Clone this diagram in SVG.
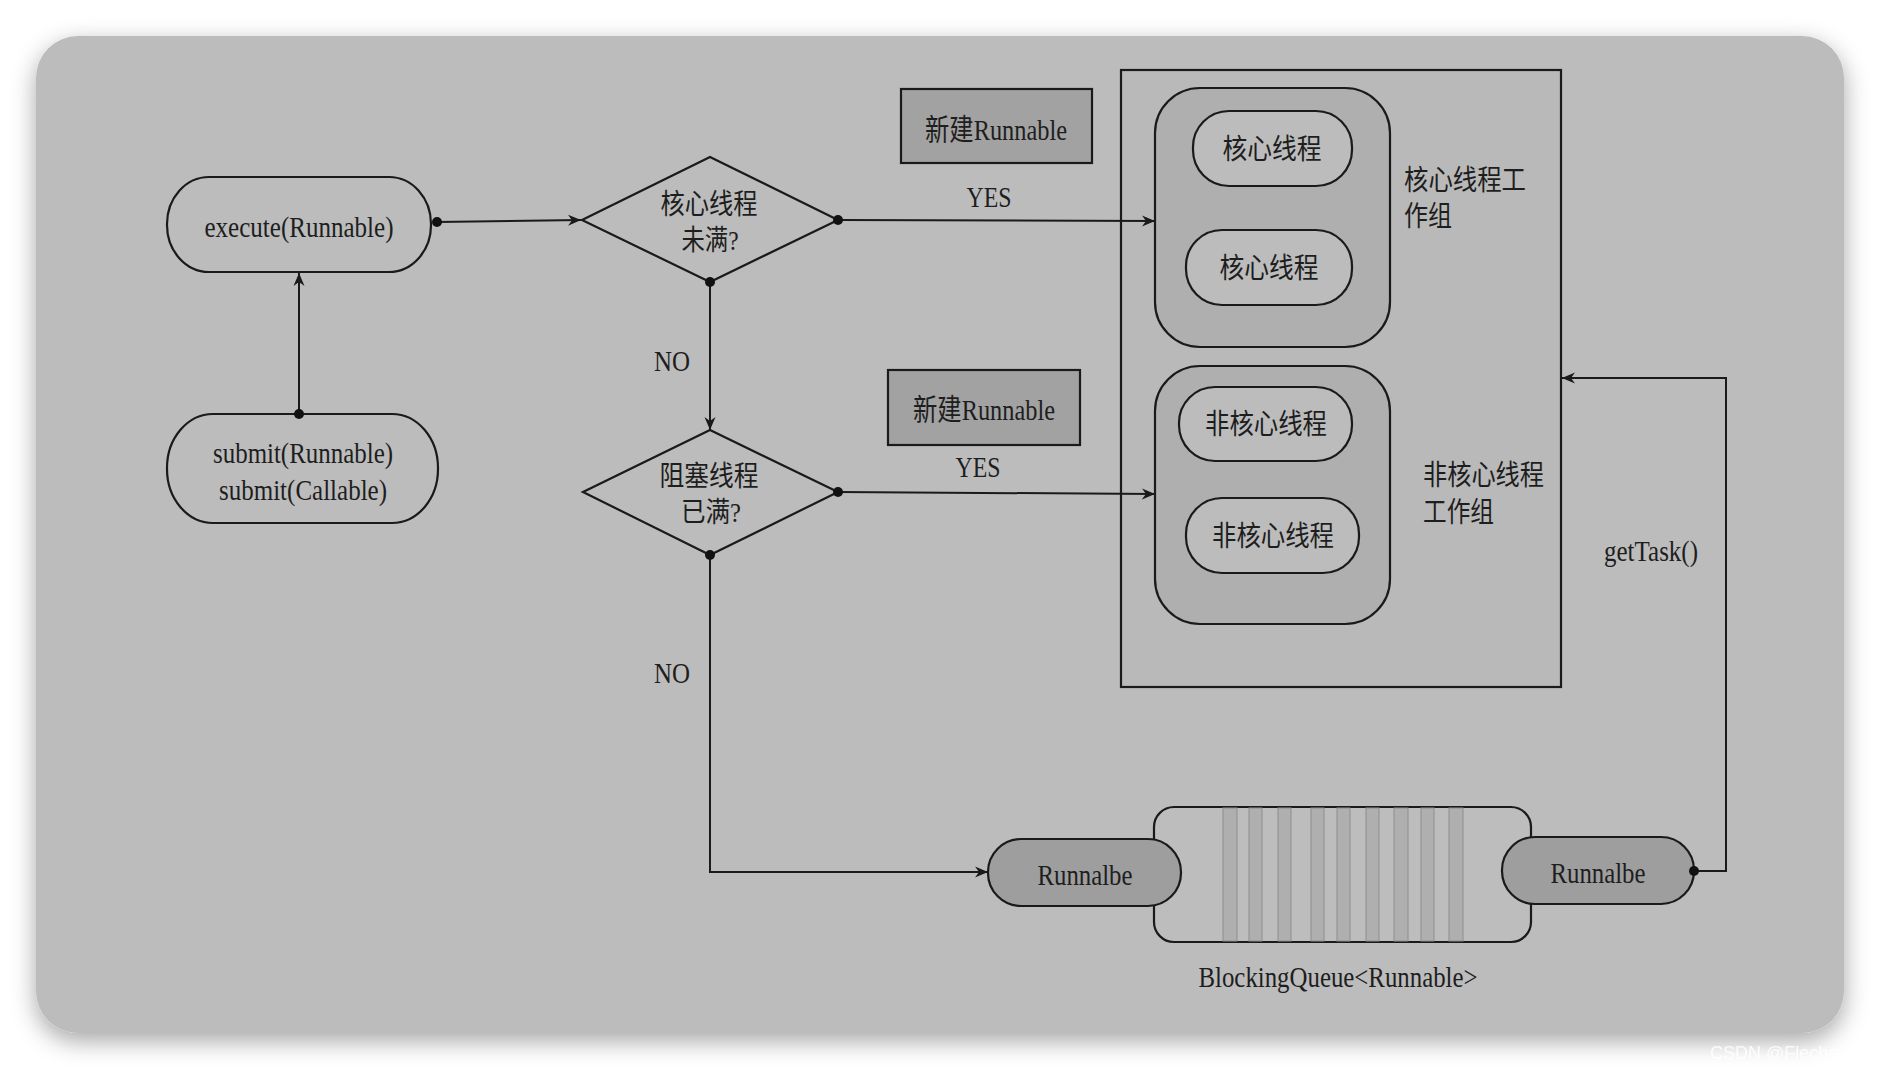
<svg xmlns="http://www.w3.org/2000/svg" width="1882" height="1070" viewBox="0 0 1882 1070">
<defs>
<filter id="shadow" x="-5%" y="-5%" width="110%" height="112%">
<feDropShadow dx="0" dy="8" stdDeviation="12" flood-color="#000" flood-opacity="0.35"/>
</filter>
<marker id="arr" markerUnits="userSpaceOnUse" markerWidth="14" markerHeight="12" refX="13" refY="6" orient="auto">
<path d="M0,0.5 L13,6 L0,11.5 L4,6 Z" fill="#1a1a1a"/>
</marker>
<style>
.t{font-family:"Liberation Serif","Noto Sans CJK SC",serif;font-size:30px;fill:#1e1e1e;text-anchor:middle}
.z{font-family:"Liberation Serif","Noto Sans CJK SC",serif;font-size:28px;fill:#1e1e1e;text-anchor:middle}
.tl{font-family:"Liberation Serif","Noto Sans CJK SC",serif;font-size:28px;fill:#1e1e1e;text-anchor:start}
.ln{fill:none;stroke:#1a1a1a;stroke-width:2}
.ol{stroke:#1a1a1a;stroke-width:2.2}
.dot{fill:#111}
.bar{fill:#afafaf;stroke:#8e8e8e;stroke-width:1}
</style>
</defs>
<rect x="0" y="0" width="1882" height="1070" fill="#ffffff"/>
<rect x="36" y="36" width="1808" height="997" rx="42" fill="#bcbcbc" filter="url(#shadow)"/>
<text x="1710" y="1059" style="font-family:'Liberation Sans',sans-serif;font-size:18px;fill:#ffffff;opacity:0.85">CSDN @Flechazo</text>

<g id="pool">
<rect x="1121" y="70" width="440" height="617" fill="#b9b9b9" class="ol"/>
</g>
<g id="coreGroup">
<rect x="1155" y="88" width="235" height="259" rx="45" fill="#afafaf" class="ol"/>
<text class="tl" x="1404" y="190" textLength="122" lengthAdjust="spacingAndGlyphs">核心线程工</text>
<text class="tl" x="1404" y="226" textLength="48" lengthAdjust="spacingAndGlyphs">作组</text>
</g>
<g id="core1">
<rect x="1193" y="111" width="159" height="75" rx="36" fill="#bcbcbc" class="ol"/>
<text class="z" x="1272" y="159" textLength="99" lengthAdjust="spacingAndGlyphs">核心线程</text>
</g>
<g id="core2">
<rect x="1186" y="230" width="166" height="75" rx="36" fill="#bcbcbc" class="ol"/>
<text class="z" x="1269" y="278" textLength="99" lengthAdjust="spacingAndGlyphs">核心线程</text>
</g>
<g id="nonCoreGroup">
<rect x="1155" y="366" width="235" height="258" rx="45" fill="#afafaf" class="ol"/>
<text class="tl" x="1423" y="485" textLength="121" lengthAdjust="spacingAndGlyphs">非核心线程</text>
<text class="tl" x="1423" y="522" textLength="71" lengthAdjust="spacingAndGlyphs">工作组</text>
</g>
<g id="nonCore1">
<rect x="1179" y="387" width="173" height="74" rx="36" fill="#bcbcbc" class="ol"/>
<text class="z" x="1266" y="434" textLength="122" lengthAdjust="spacingAndGlyphs">非核心线程</text>
</g>
<g id="nonCore2">
<rect x="1186" y="498" width="173" height="75" rx="36" fill="#bcbcbc" class="ol"/>
<text class="z" x="1273" y="546" textLength="122" lengthAdjust="spacingAndGlyphs">非核心线程</text>
</g>

<g id="execute">
<rect x="167" y="177" width="264" height="95" rx="42" ry="47" fill="#bcbcbc" class="ol"/>
<text class="t" x="299" y="237" textLength="189" lengthAdjust="spacingAndGlyphs">execute(Runnable)</text>
</g>
<g id="submit">
<rect x="167" y="414" width="271" height="109" rx="46" ry="54" fill="#bcbcbc" class="ol"/>
<text class="t" x="303" y="463" textLength="180" lengthAdjust="spacingAndGlyphs">submit(Runnable)</text>
<text class="t" x="303" y="500" textLength="168" lengthAdjust="spacingAndGlyphs">submit(Callable)</text>
</g>
<g id="decision1">
<polygon points="582,220 710,157 838,220 710,282" fill="#bcbcbc" class="ol"/>
<text class="z" x="709" y="214" textLength="97" lengthAdjust="spacingAndGlyphs">核心线程</text>
<text class="z" x="710" y="250" textLength="57" lengthAdjust="spacingAndGlyphs">未满?</text>
</g>
<g id="decision2">
<polygon points="583,492 710,430 838,492 710,555" fill="#bcbcbc" class="ol"/>
<text class="z" x="709" y="486" textLength="99" lengthAdjust="spacingAndGlyphs">阻塞线程</text>
<text class="z" x="711" y="522" textLength="60" lengthAdjust="spacingAndGlyphs">已满?</text>
</g>
<g id="newRunnable1">
<rect x="901" y="89" width="191" height="74" fill="#a2a2a2" class="ol"/>
<text class="t" x="996" y="140" textLength="142" lengthAdjust="spacingAndGlyphs">新建Runnable</text>
</g>
<g id="newRunnable2">
<rect x="888" y="370" width="192" height="75" fill="#a2a2a2" class="ol"/>
<text class="t" x="984" y="420" textLength="142" lengthAdjust="spacingAndGlyphs">新建Runnable</text>
</g>

<g id="queue">
<rect x="1154" y="807" width="377" height="135" rx="20" fill="#bdbdbd" class="ol"/>
<rect class="bar" x="1223" y="808" width="14" height="133"/>
<rect class="bar" x="1249" y="808" width="13" height="133"/>
<rect class="bar" x="1278" y="808" width="13" height="133"/>
<rect class="bar" x="1311" y="808" width="13" height="133"/>
<rect class="bar" x="1337" y="808" width="13" height="133"/>
<rect class="bar" x="1366" y="808" width="13" height="133"/>
<rect class="bar" x="1394" y="808" width="14" height="133"/>
<rect class="bar" x="1421" y="808" width="13" height="133"/>
<rect class="bar" x="1449" y="808" width="14" height="133"/>
<text class="t" x="1338" y="987" textLength="279" lengthAdjust="spacingAndGlyphs">BlockingQueue&lt;Runnable&gt;</text>
</g>
<g id="runnableIn">
<rect x="988" y="839" width="193" height="67" rx="33" fill="#9e9e9e" class="ol"/>
<text class="t" x="1085" y="885" textLength="95" lengthAdjust="spacingAndGlyphs">Runnalbe</text>
</g>
<g id="runnableOut">
<rect x="1502" y="837" width="192" height="67" rx="33" fill="#9e9e9e" class="ol"/>
<text class="t" x="1598" y="883" textLength="95" lengthAdjust="spacingAndGlyphs">Runnalbe</text>
</g>

<g id="connectors">
<path class="ln" d="M299,414 L299,273" marker-end="url(#arr)"/>
<circle class="dot" cx="299" cy="414" r="5"/>
<path class="ln" d="M437,222 L581,220" marker-end="url(#arr)"/>
<circle class="dot" cx="437" cy="222" r="5"/>
<path class="ln" d="M838,220 L1155,221" marker-end="url(#arr)"/>
<circle class="dot" cx="838" cy="220" r="5"/>
<text class="t" x="989" y="207" textLength="45" lengthAdjust="spacingAndGlyphs">YES</text>
<path class="ln" d="M710,282 L710,430" marker-end="url(#arr)"/>
<circle class="dot" cx="710" cy="282" r="5"/>
<text class="t" x="672" y="371" textLength="36" lengthAdjust="spacingAndGlyphs">NO</text>
<path class="ln" d="M838,492 L1155,494" marker-end="url(#arr)"/>
<circle class="dot" cx="838" cy="492" r="5"/>
<text class="t" x="978" y="477" textLength="45" lengthAdjust="spacingAndGlyphs">YES</text>
<path class="ln" d="M710,555 L710,872 L988,872" marker-end="url(#arr)"/>
<circle class="dot" cx="710" cy="555" r="5"/>
<text class="t" x="672" y="683" textLength="36" lengthAdjust="spacingAndGlyphs">NO</text>
<path class="ln" d="M1694,871 L1726,871 L1726,378 L1562,378" marker-end="url(#arr)"/>
<circle class="dot" cx="1694" cy="871" r="5"/>
<text class="t" x="1651" y="561" textLength="94" lengthAdjust="spacingAndGlyphs">getTask()</text>
</g>
</svg>
